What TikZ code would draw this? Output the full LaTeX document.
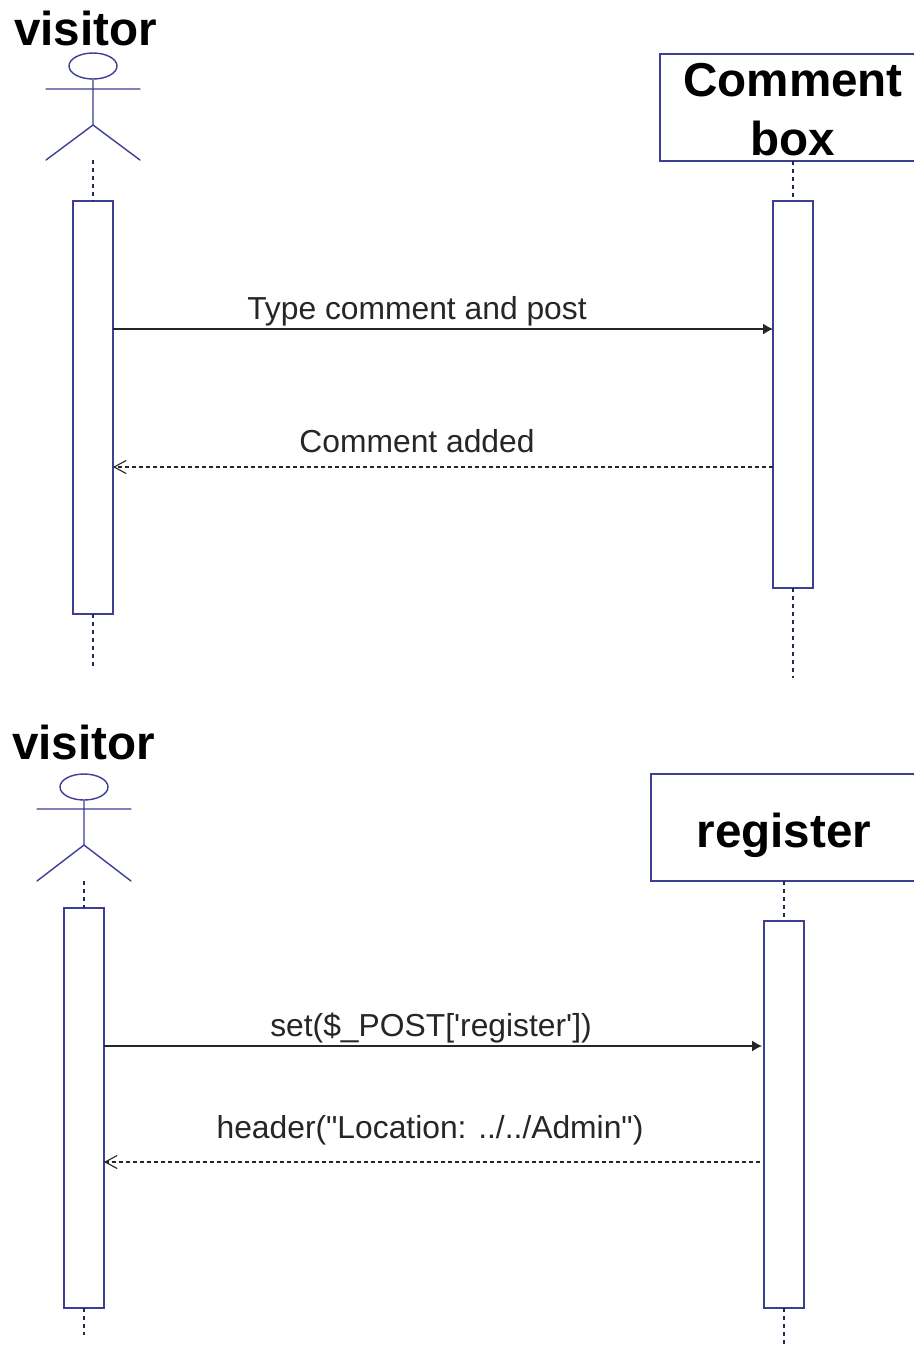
\documentclass[tikz,border=0pt]{standalone}
\usepackage{fontspec}
\setmainfont{Liberation Sans}
\newfontfamily\msgfont[Ligatures=NoCommon]{Liberation Sans}
\usetikzlibrary{arrows.meta,shapes.geometric}
\definecolor{umlblue}{RGB}{62,62,150}
\tikzset{
  umlline/.style={draw=umlblue,line width=0.7pt},
  actorpart/.style={umlline,line cap=round},
  bar/.style={umlline,fill=white,minimum width=20pt,inner sep=0pt,outer sep=0pt},
  participant/.style={umlline,fill=white,inner sep=0pt,outer sep=0pt,minimum width=133pt,minimum height=53.5pt},
  heading/.style={font=\fontsize{23.8}{29}\selectfont\bfseries,inner sep=0pt,text=black},
  lifeline/.style={draw=umlblue!60!black,line width=0.6pt,dash pattern=on 2pt off 2pt},
  call/.style={draw=black!85,line width=0.6pt,-{Latex[length=5pt,width=5.5pt]}},
  reply/.style={draw=black!85,line width=0.55pt,dash pattern=on 2pt off 1.5pt,-{Straight Barb[length=6pt,width=6.5pt]}},
  msg/.style={font=\msgfont\fontsize{15.9}{18}\selectfont,inner sep=0pt,text=black!85}
}
\begin{document}
\begin{tikzpicture}[x=0.5pt,y=-0.5pt]
\useasboundingbox[fill=white] (0,0) rectangle (914,1346);
% --- top diagram
\node[heading,anchor=base] (v1) at (85.5,45) {visitor};
\node[umlline,ellipse,minimum width=24pt,minimum height=13pt,inner sep=0pt] (h1) at (93,66) {};
\coordinate (w1) at (46,89);
\coordinate (e1) at (140,89);
\coordinate (hip1) at (93,125);
\coordinate (ll1) at (46,160);
\coordinate (rl1) at (140,160);
\draw[actorpart] (w1) -- (e1) (h1.south) -- (hip1) (ll1) -- (hip1) -- (rl1);
\coordinate (foot1) at (93,160);
\coordinate (end1) at (93,668);
\node[bar,anchor=north,minimum height=206.5pt] (a1) at (93,201) {};
\draw[lifeline] (foot1) -- (a1.north);
\draw[lifeline] (a1.south) -- (end1);

\node[participant] (p1) at (793,107.5) {};
\node[heading,anchor=base] (p1a) at (793,96.5) {Comment};
\node[heading,anchor=base] (p1b) at (793,155) {box};
\coordinate (end2) at (793,678);
\node[bar,anchor=north,minimum height=193.5pt] (b1) at (793,201) {};
\draw[lifeline] (p1.south) -- (b1.north);
\draw[lifeline] (b1.south) -- (end2);

\coordinate (y1) at (0,329);
\coordinate (y2) at (0,467);
\draw[call] (a1.east |- y1) -- (b1.west |- y1);
\draw[reply] (b1.west |- y2) -- (a1.east |- y2);
\node[msg,anchor=base] (m1) at (417,319) {Type comment and post};
\node[msg,anchor=base] (m2) at (417,452) {Comment added};

% --- bottom diagram
\node[heading,anchor=base] (v2) at (83.5,759) {visitor};
\node[umlline,ellipse,minimum width=24pt,minimum height=13pt,inner sep=0pt] (h2) at (84,787) {};
\coordinate (w2) at (37,809);
\coordinate (e2) at (131,809);
\coordinate (hip2) at (84,845);
\coordinate (ll2) at (37,881);
\coordinate (rl2) at (131,881);
\draw[actorpart] (w2) -- (e2) (h2.south) -- (hip2) (ll2) -- (hip2) -- (rl2);
\coordinate (foot2) at (84,881);
\coordinate (end3) at (84,1335);
\node[bar,anchor=north,minimum height=200pt] (a2) at (84,908) {};
\draw[lifeline] (foot2) -- (a2.north);
\draw[lifeline] (a2.south) -- (end3);

\node[participant] (p2) at (784,827.5) {};
\node[heading,anchor=base] (p2a) at (784,847) {register};
\coordinate (end4) at (784,1346);
\node[bar,anchor=north,minimum height=193.5pt] (b2) at (784,921) {};
\draw[lifeline] (p2.south) -- (b2.north);
\draw[lifeline] (b2.south) -- (end4);

\coordinate (y3) at (0,1046);
\coordinate (y4) at (0,1162);
\coordinate (t3) at (762,1046);
\coordinate (s4) at (760,1162);
\draw[call] (a2.east |- y3) -- (t3);
\draw[reply] (s4) -- (a2.east |- y4);
\node[msg,anchor=base] (m3) at (431,1036) {set(\$\_POST['register'])};
\node[msg,anchor=base] (m4) at (430,1138) {header("Location: ../../Admin")};
\end{tikzpicture}
\end{document}
